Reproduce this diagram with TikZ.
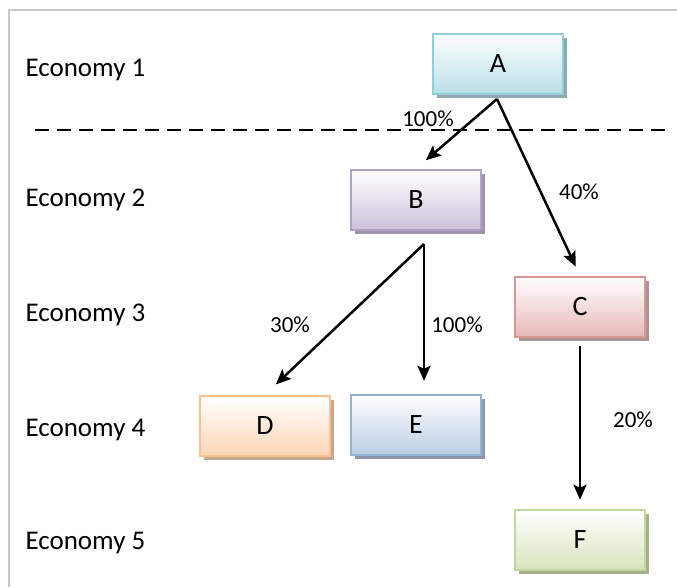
\documentclass[tikz,border=0pt]{standalone}
\usepackage{fontspec}
\setmainfont{Carlito}
\usepackage{tikz}
\usetikzlibrary{arrows.meta,shadows,calc,positioning}

\definecolor{aline}{RGB}{146,205,220}
\definecolor{afill}{RGB}{183,222,232}
\definecolor{ashade}{RGB}{143,169,175}
\definecolor{bline}{RGB}{178,161,199}
\definecolor{bfill}{RGB}{204,192,218}
\definecolor{bshade}{RGB}{158,150,168}
\definecolor{cline}{RGB}{217,150,148}
\definecolor{cfill}{RGB}{230,185,184}
\definecolor{cshade}{RGB}{169,149,147}
\definecolor{dline}{RGB}{250,192,144}
\definecolor{dfill}{RGB}{252,213,181}
\definecolor{dshade}{RGB}{197,168,143}
\definecolor{eline}{RGB}{149,179,215}
\definecolor{efill}{RGB}{185,205,229}
\definecolor{eshade}{RGB}{138,152,168}
\definecolor{fline}{RGB}{195,214,155}
\definecolor{ffill}{RGB}{215,228,189}
\definecolor{fshade}{RGB}{164,175,144}
\definecolor{framegray}{RGB}{200,200,200}

\tikzset{
  ecobox/.style={rectangle, minimum width=130pt, minimum height=60pt,
    line width=2.5pt, draw=#1line, top color=white, bottom color=#1fill,
    drop shadow={shadow xshift=4pt, shadow yshift=-4pt, fill=#1shade, opacity=1},
    font=\fontsize{28}{30}\selectfont},
  flow/.style={-{Stealth[length=15pt,width=13pt,inset=3pt]}, line width=2.5pt},
  pct/.style={font=\fontsize{23}{25}\selectfont}
}

\begin{document}
\begin{tikzpicture}[x=1pt,y=-1pt]
    \useasboundingbox (0,0) rectangle (677,587);

    % draw frame
    \draw[framegray, line width=2pt] (677,10) -- (9,10) -- (9,587);

    % draw economy labels
    \foreach \n/\y in {1/70,2/200,3/315,4/430,5/543}
    \node[anchor=west, font=\fontsize{27}{30}\selectfont] (eco\n) at (22,\y) {Economy \n};

    % draw dashed border
    \draw[dashed, line width=1.8pt, dash pattern=on 14pt off 8pt] (35,130) -- (665,130);

    % draw nodes
    \node[ecobox=a] (A) at (498,64) {A};
    \node[ecobox=b] (B) at (416,200) {B};
    \node[ecobox=c] (C) at (580,307) {C};
    \node[ecobox=d] (D) at (265,426) {D};
    \node[ecobox=e] (E) at (416,425) {E};
    \node[ecobox=f] (F) at (580,540) {F};

    % draw arrows
    \coordinate (asplit) at (497,99);
    \coordinate (bsplit) at (424,244);
    \draw[flow, shorten >=13pt] (asplit) -- (B.north);
    \draw[flow, shorten >=10pt] (asplit) -- (C.north);
    \draw[flow, shorten >=15pt] (bsplit) -- (D.north);
    \draw[flow, shorten >=13pt] (bsplit) -- (bsplit |- E.north);
    \draw[flow, shorten <=8pt, shorten >=9pt] (C.south) -- (F.north);

    % draw percentages
    \node[pct] (pab) at (428,119) {100\%};
    \node[pct] (pac) at (579,192) {40\%};
    \node[pct] (pbd) at (290,325) {30\%};
    \node[pct] (pbe) at (457,325) {100\%};
    \node[pct] (pcf) at (633,420) {20\%};

\end{tikzpicture}
\end{document}
